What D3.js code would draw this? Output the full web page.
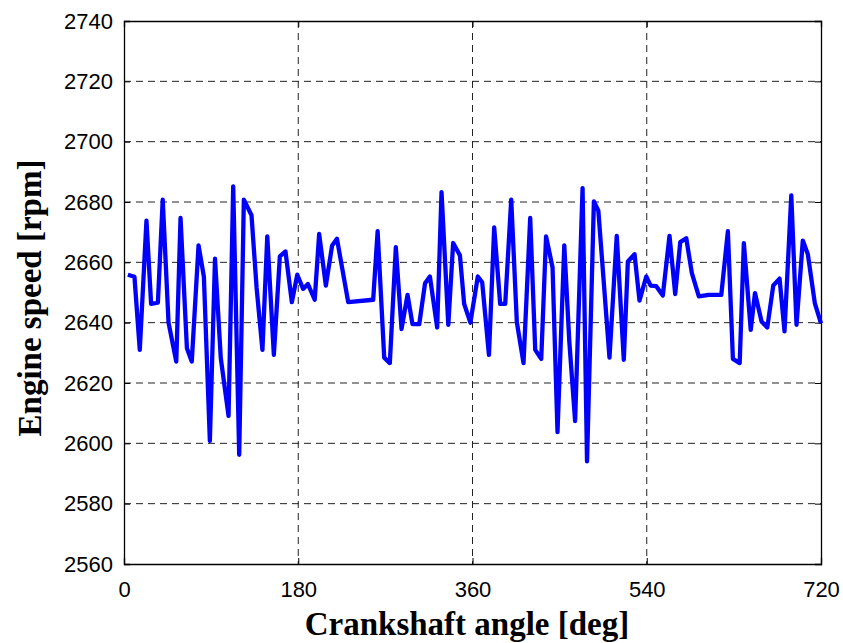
<!DOCTYPE html>
<meta charset="utf-8" />
<html>
<head>
<script src="https://d3js.org/d3.v7.min.js"></script>
<style>
  body { margin: 0; background: #fff; }
  .tick text { font-family: "Liberation Sans", Arial, sans-serif; font-size: 22px; fill: #000; }
</style>
</head>
<body>
<script type="text/javascript">
// crank angle [deg] and engine speed [rpm]
var angle = [4, 10.8, 16.3, 23.2, 28, 35, 40, 46, 54, 58.4, 65, 70, 77, 82.5, 88.7, 94, 100, 108, 112.8, 119,
  123.8, 131.7, 137, 143, 148, 154.8, 161, 166.8, 173.4, 179, 185, 190, 197, 201.6, 208.5, 215, 220, 231.6,
  257.4, 262, 268.8, 274.6, 280.8, 286.7, 292.9, 298, 305, 311, 316, 323.5, 328, 335, 340, 347, 351.4, 357.8,
  365.5, 370, 377, 382.4, 388.6, 393.8, 400, 405.8, 412.7, 419.6, 424.8, 431, 436, 442.7, 447.8, 454.8, 460, 466, 473.7, 478.3,
  485.4, 490, 501.5, 509, 516.3, 520.5, 527.4, 532.5, 539.5, 544, 549.8, 556.6, 563.5, 569.4, 574.6, 580.8, 586.6, 593.8,
  604, 617, 623.8, 629, 636, 640.3, 647.4, 651.8, 658.6, 664.5, 670.7, 677.2, 682.3, 689.3, 694.7, 701.2, 706.4, 713.6, 720];
var speed = [2655.9, 2655.2, 2631, 2673.8, 2646.2, 2646.6, 2680.8, 2640, 2627.1, 2674.7, 2631.5, 2627.1, 2665.6, 2655.3, 2600.8, 2661.2, 2628.2, 2609.1, 2685.2, 2596.2,
  2680.8, 2675.6, 2651.5, 2631, 2668.6, 2629.3, 2662, 2663.6, 2646.8, 2655.9, 2651.2, 2652.8, 2647.6, 2669.4, 2652.3, 2665.6, 2667.8, 2646.8,
  2647.6, 2670.3, 2628.4, 2626.6, 2665, 2637.9, 2649.2, 2639.5, 2639.5, 2653.1, 2655.3, 2638.4, 2683.3, 2639.3, 2666.4, 2662.3, 2646.2, 2640,
  2655.3, 2653.4, 2629.3, 2671.6, 2646.2, 2646.2, 2680.8, 2640.2, 2626.6, 2674.7, 2631, 2628, 2668.6, 2658.3, 2603.7, 2665.6, 2633.8, 2607.4, 2684.6, 2594,
  2680.2, 2677.1, 2628.4, 2668.8, 2627.7, 2660.3, 2662.7, 2647.3, 2655.3, 2652.3, 2652.1, 2649, 2668.8, 2649.5, 2666.7, 2668, 2656.4, 2648.7,
  2649.2, 2649.2, 2670.3, 2628, 2626.6, 2666.4, 2637.6, 2649.8, 2640.4, 2638.4, 2652.3, 2654.6, 2637.1, 2682.2, 2639.3, 2667.2, 2662.7, 2646.5, 2639.8];
var xTicks = [0, 180, 360, 540, 720];
var yTicks = [2560, 2580, 2600, 2620, 2640, 2660, 2680, 2700, 2720, 2740];

var margin = {top: 21, right: 22, bottom: 79, left: 124};
var width = 843 - margin.left - margin.right;
var height = 643 - margin.top - margin.bottom;

var svg = d3.select('body').append('svg')
    .attr('width', 843)
    .attr('height', 643);
svg.append('rect').attr('width', 843).attr('height', 643).attr('fill', 'white');
var g = svg.append('g')
    .attr('transform', 'translate(' + margin.left + ',' + margin.top + ')');

var x = d3.scaleLinear().domain([0, 720]).range([0, width]);
var y = d3.scaleLinear().domain([2560, 2740]).range([height, 0]);

// dashed grid
g.append('g').selectAll('line.hg')
    .data(yTicks.slice(1, -1))
    .enter().append('line')
    .attr('x1', 0).attr('x2', width)
    .attr('y1', function(d) { return y(d); })
    .attr('y2', function(d) { return y(d); })
    .attr('stroke', '#222').attr('stroke-width', 1)
    .attr('stroke-dasharray', '7,5');
g.append('g').selectAll('line.vg')
    .data(xTicks.slice(1, -1))
    .enter().append('line')
    .attr('y1', 0).attr('y2', height)
    .attr('x1', function(d) { return x(d); })
    .attr('x2', function(d) { return x(d); })
    .attr('stroke', '#222').attr('stroke-width', 1)
    .attr('stroke-dasharray', '7,5');

// axes, ticks pointing inwards
var xAxis = g.append('g')
    .attr('transform', 'translate(0,' + height + ')')
    .call(d3.axisBottom(x).tickValues(xTicks).tickSize(-6).tickPadding(17));
var yAxis = g.append('g')
    .call(d3.axisLeft(y).tickValues(yTicks).tickSize(-6).tickPadding(11).tickFormat(d3.format('d')));
g.append('g')
    .call(d3.axisTop(x).tickValues(xTicks).tickSize(-6).tickFormat(''));
g.append('g')
    .attr('transform', 'translate(' + width + ',0)')
    .call(d3.axisRight(y).tickValues(yTicks).tickSize(-6).tickFormat(''));
g.selectAll('.domain').attr('stroke', '#000').attr('stroke-width', 1.3);
g.selectAll('.tick line').attr('stroke', '#000');
xAxis.selectAll('.tick text').attr('dy', '0.71em');

var line = d3.line()
    .x(function(d, i) { return x(angle[i]); })
    .y(function(d) { return y(d); });

g.append('path')
    .attr('d', line(speed))
    .attr('fill', 'none')
    .attr('stroke', '#0000ff')
    .attr('stroke-width', 4.3)
    .attr('stroke-linejoin', 'round');

// axis labels
svg.append('text')
    .attr('x', 467)
    .attr('y', 635)
    .attr('text-anchor', 'middle')
    .style('font-family', '"Liberation Serif", "Times New Roman", serif')
    .style('font-weight', 'bold')
    .style('font-size', '33px')
    .text('Crankshaft angle [deg]');

svg.append('text')
    .attr('transform', 'translate(41,' + 298 + ') rotate(-90)')
    .attr('text-anchor', 'middle')
    .style('font-family', '"Liberation Serif", "Times New Roman", serif')
    .style('font-weight', 'bold')
    .style('font-size', '33px')
    .text('Engine speed [rpm]');
</script>
</body>
</html>
